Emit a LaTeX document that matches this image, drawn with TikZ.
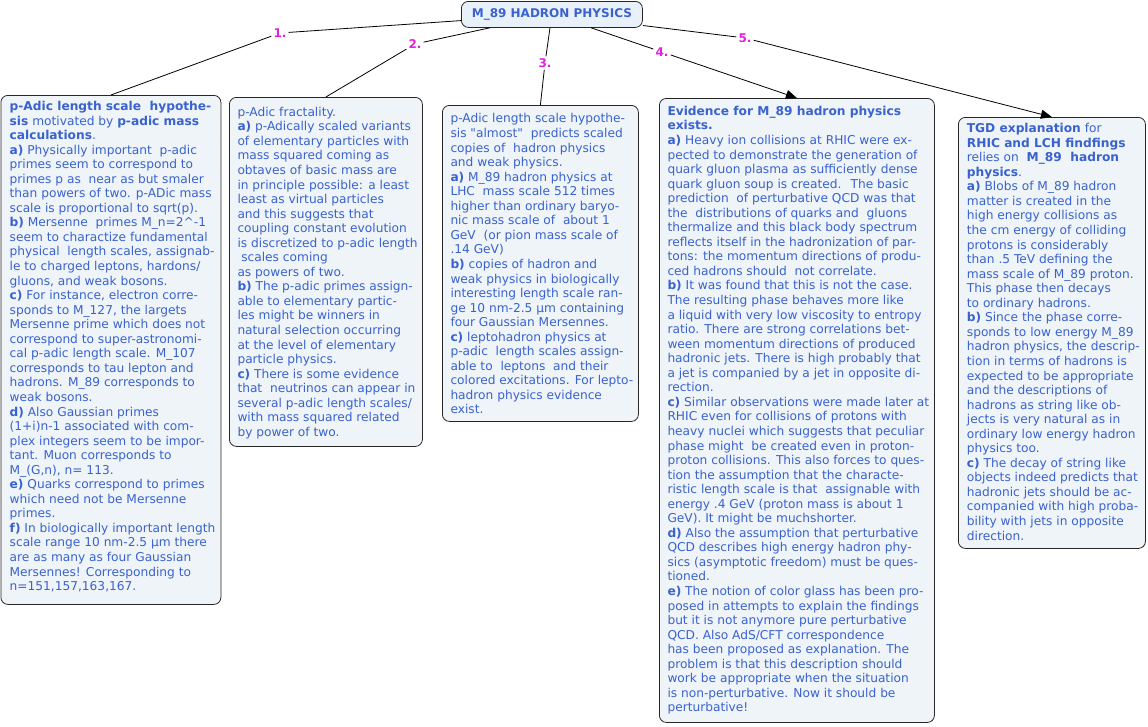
\documentclass[tikz,border=0pt]{standalone}
\usepackage{fontspec}
\newfontfamily\vf{DejaVu Sans}
\usetikzlibrary{arrows.meta}
\definecolor{txtblue}{HTML}{3A62CF}
\definecolor{boxfill}{HTML}{EEF4F7}
\definecolor{topfill}{HTML}{E8F1FA}
\definecolor{labmag}{HTML}{E21FE2}
\tikzset{
  box/.style={draw=black!85, line width=0.8pt, rounded corners=7pt, fill=boxfill, anchor=north west, inner sep=0pt},
  txt/.style={anchor=north west, inner sep=0pt, align=left, text=txtblue, font=\vf\fontsize{12.2}{14.55}\selectfont},
  lab/.style={text=labmag, font=\vf\bfseries\fontsize{12}{13}\selectfont, inner sep=2pt},
  conn/.style={draw=black, line width=0.8pt},
  arr/.style={conn, -{Triangle[length=11pt,width=9pt]}}
}
\begin{document}
\begin{tikzpicture}[x=1pt,y=-1pt]
\useasboundingbox (0,0) rectangle (1148,726);
% top node
\node[box, fill=topfill, minimum width=181pt, minimum height=26pt] (top) at (461,1) {};
\node[text=txtblue, font=\vf\bfseries\fontsize{12}{14}\selectfont, inner sep=0pt] (toptxt) at (top.center) {M\_89 HADRON PHYSICS};
% boxes
\node[box, minimum width=220pt, minimum height=509pt] (b1) at (0.5,95) {};
\node[box, minimum width=193pt, minimum height=349pt] (b2) at (229,97) {};
\node[box, minimum width=196pt, minimum height=316pt] (b3) at (442,105) {};
\node[box, minimum width=275pt, minimum height=624pt] (b4) at (659,98) {};
\node[box, minimum width=187pt, minimum height=431pt] (b5) at (958,117) {};
% texts
\node[txt] (t1) at (9.5,101) {\textbf{p-Adic length scale~ hypothe-}\\
\textbf{sis} motivated by \textbf{p-adic mass}\\
\textbf{calculations}.\\
\textbf{a)} Physically important~ p-adic\\
primes seem to correspond to\\
primes p as~ near as but smaler\\
than powers of two. p-ADic mass\\
scale is proportional to sqrt(p).\\
\textbf{b)} Mersenne~ primes M\_n=2\textasciicircum-1\\
seem to charactize fundamental\\
physical~ length scales, assignab-\\
le to charged leptons, hardons/\\
gluons, and weak bosons.\\
\textbf{c)} For instance, electron corre-\\
sponds to M\_127, the largets\\
Mersenne prime which does not\\
correspond to super-astronomi-\\
cal p-adic length scale. M\_107\\
corresponds to tau lepton and\\
hadrons. M\_89 corresponds to\\
weak bosons.\\
\textbf{d)} Also Gaussian primes\\
(1+i)n-1 associated with com-\\
plex integers seem to be impor-\\
tant. Muon corresponds to\\
M\_(G,n), n= 113.\\
\textbf{e)} Quarks correspond to primes\\
which need not be Mersenne\\
primes.\\
\textbf{f)} In biologically important length\\
scale range 10 nm-2.5 μm there\\
are as many as four Gaussian\\
Mersennes! Corresponding to\\
n=151,157,163,167.};
\node[txt] (t2) at (237.3,106.8) {p-Adic fractality.\\
\textbf{a)} p-Adically scaled variants\\
of elementary particles with\\
mass squared coming as\\
obtaves of basic mass are\\
in principle possible: a least\\
least as virtual particles\\
and this suggests that\\
coupling constant evolution\\
is discretized to p-adic length\\
\hspace*{3.8pt}scales coming\\
as powers of two.\\
\textbf{b)} The p-adic primes assign-\\
able to elementary partic-\\
les might be winners in\\
natural selection occurring\\
at the level of elementary\\
particle physics.\\
\textbf{c)} There is some evidence\\
that~ neutrinos can appear in\\
several p-adic length scales/\\
with mass squared related\\
by power of two.};
\node[txt] (t3) at (450.3,113.5) {p-Adic length scale hypothe-\\
sis "almost"~ predicts scaled\\
copies of~ hadron physics\\
and weak physics.\\
\textbf{a)} M\_89 hadron physics at\\
LHC~ mass scale 512 times\\
higher than ordinary baryo-\\
nic mass scale of~ about 1\\
GeV~ (or pion mass scale of\\
.14 GeV)\\
\textbf{b)} copies of hadron and\\
weak physics in biologically\\
interesting length scale ran-\\
ge 10 nm-2.5 μm containing\\
four Gaussian Mersennes.\\
\textbf{c)} leptohadron physics at\\
p-adic~ length scales assign-\\
able to~ leptons~ and their\\
colored excitations. For lepto-\\
hadron physics evidence\\
exist.};
\node[txt] (t4) at (667.3,105.9) {\textbf{Evidence for M\_89 hadron physics}\\
\textbf{exists.}\\
\textbf{a)} Heavy ion collisions at RHIC were ex-\\
pected to demonstrate the generation of\\
quark gluon plasma as sufficiently dense\\
quark gluon soup is created.~ The basic\\
prediction~ of perturbative QCD was that\\
the~ distributions of quarks and~ gluons\\
thermalize and this black body spectrum\\
reflects itself in the hadronization of par-\\
tons: the momentum directions of produ-\\
ced hadrons should~ not correlate.\\
\textbf{b)} It was found that this is not the case.\\
The resulting phase behaves more like\\
a liquid with very low viscosity to entropy\\
ratio. There are strong correlations bet-\\
ween momentum directions of produced\\
hadronic jets. There is high probably that\\
a jet is companied by a jet in opposite di-\\
rection.\\
\textbf{c)} Similar observations were made later at\\
RHIC even for collisions of protons with\\
heavy nuclei which suggests that peculiar\\
phase might~ be created even in proton-\\
proton collisions. This also forces to ques-\\
tion the assumption that the characte-\\
ristic length scale is that~ assignable with\\
energy .4 GeV (proton mass is about 1\\
GeV). It might be muchshorter.\\
\textbf{d)} Also the assumption that perturbative\\
QCD describes high energy hadron phy-\\
sics (asymptotic freedom) must be ques-\\
tioned.\\
\textbf{e)} The notion of color glass has been pro-\\
posed in attempts to explain the findings\\
but it is not anymore pure perturbative\\
QCD. Also AdS/CFT correspondence\\
has been proposed as explanation. The\\
problem is that this description should\\
work be appropriate when the situation\\
is non-perturbative. Now it should be\\
perturbative!};
\node[txt] (t5) at (966.7,123.2) {\textbf{TGD explanation} for\\
\textbf{RHIC and LCH findfings}\\
relies on~ \textbf{M\_89~ hadron}\\
\textbf{physics}.\\
\textbf{a)} Blobs of M\_89 hadron\\
matter is created in the\\
high energy collisions as\\
the cm energy of colliding\\
protons is considerably\\
than .5 TeV defining the\\
mass scale of M\_89 proton.\\
This phase then decays\\
to ordinary hadrons.\\
\textbf{b)} Since the phase corre-\\
sponds to low energy M\_89\\
hadron physics, the descrip-\\
tion in terms of hadrons is\\
expected to be appropriate\\
and the descriptions of\\
hadrons as string like ob-\\
jects is very natural as in\\
ordinary low energy hadron\\
physics too.\\
\textbf{c)} The decay of string like\\
objects indeed predicts that\\
hadronic jets should be ac-\\
companied with high proba-\\
bility with jets in opposite\\
direction.};
% labels
\node[lab] (l1) at (280,33) {1.};
\node[lab] (l2) at (415,44) {2.};
\node[lab] (l3) at (545,63) {3.};
\node[lab] (l4) at (662,52) {4.};
\node[lab] (l5) at (745,38) {5.};
% connectors
\draw[conn] (top) -- (l1) -- (b1.north);
\draw[conn] (top) -- (l2) -- (b2.north);
\draw[conn] (top) -- (l3) -- (b3.north);
\draw[conn] (top) -- (l4);
\draw[arr] (l4) -- (b4.north);
\draw[conn] (top) -- (l5);
\draw[arr] (l5) -- (b5.north);
\end{tikzpicture}
\end{document}
